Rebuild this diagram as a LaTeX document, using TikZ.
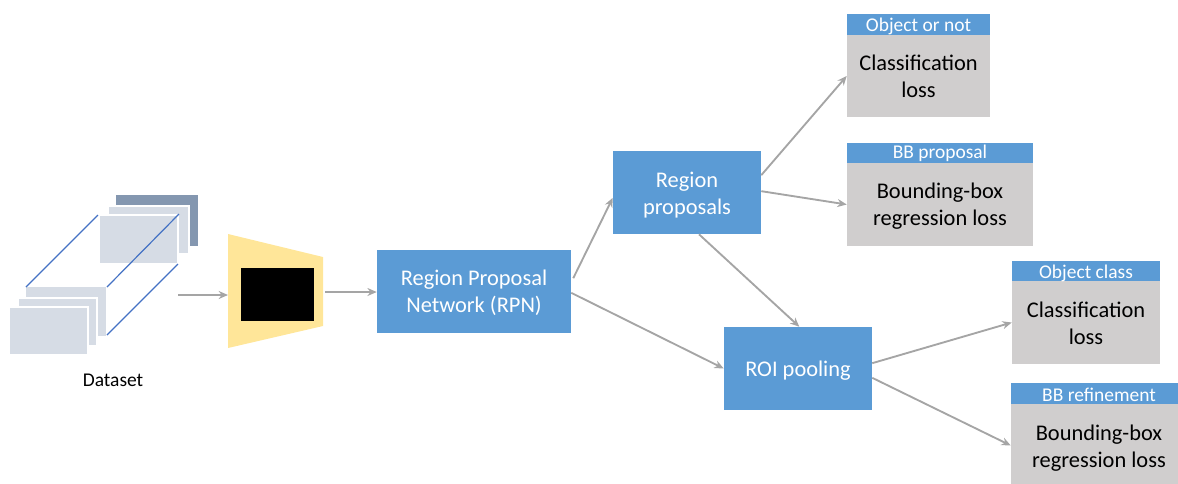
\documentclass[tikz,border=0pt]{standalone}
\usepackage{fontspec}
\setmainfont{Carlito}
\definecolor{boxblue}{HTML}{5B9BD5}
\definecolor{lossgray}{HTML}{D0CECE}
\definecolor{arrowgray}{HTML}{A5A5A5}
\definecolor{framelight}{HTML}{D6DCE5}
\definecolor{framedark}{HTML}{8497B0}
\definecolor{edgeblue}{HTML}{4472C4}
\definecolor{netyellow}{HTML}{FFE699}
\usetikzlibrary{arrows.meta}
\newcommand{\dropline}[2]{\raisebox{-#1}[\height][\depth]{#2}}
\tikzset{
  bluebox/.style={fill=boxblue,text=white,align=center,inner sep=0pt,font=\fontsize{16.8}{20.2}\selectfont},
  headbox/.style={fill=boxblue,text=white,align=center,inner sep=0pt,font=\fontsize{14.6}{15}\selectfont},
  lossbox/.style={fill=lossgray,text=black,align=center,inner sep=0pt,font=\fontsize{16.8}{20.2}\selectfont},
  framebox/.style={fill=framelight,draw=white,line width=.8pt},
  flow/.style={draw=arrowgray,line width=1.4pt,-{Stealth[length=7pt,width=6pt]}},
  edgeline/.style={draw=edgeblue,line width=.9pt}
}
\begin{document}
\begin{tikzpicture}[x=.75pt, y=-.75pt]
    \useasboundingbox (0,0) rectangle (1178,483);
    \clip (0,0) rectangle (1178,483);
    % dataset frames
    \fill[framedark] (116,195) rectangle (198,246);
    \draw[framebox] (108,206) rectangle (189,254);
    \draw[framebox] (99,215) rectangle (178,264);
    \draw[framebox] (25,286) rectangle (107,337);
    \draw[framebox] (18,298) rectangle (97,346);
    \draw[framebox] (9,307) rectangle (88,355);
    \draw[edgeline] (26,287) -- (98,215);
    \draw[edgeline] (107,287) -- (179,214);
    \draw[edgeline] (107,335) -- (178,264);
    \node[font=\fontsize{14.6}{16}\selectfont] (dataset) at (113,380) {Dataset};
    \coordinate (stackout) at (178,295);
    % network
    \fill[netyellow] (228,234) -- (323,257) -- (323,326) -- (228,348) -- cycle;
    \fill[black] (241,268) rectangle (314,321);
    \coordinate (netin) at (228,295);
    \coordinate (netout) at (325,292);
    % boxes
    \node[bluebox,minimum width=145.5pt,minimum height=62.25pt] (rpn) at (474,291.5) {\dropline{1.1pt}{Region Proposal}\\\dropline{1.1pt}{Network (RPN)}};
    \node[bluebox,minimum width=111pt,minimum height=62.25pt] (proposals) at (687,192.5) {\dropline{2.25pt}{Region}\\\dropline{2.25pt}{proposals}};
    \node[bluebox,minimum width=111pt,minimum height=62.25pt] (roi) at (798,368.5) {\dropline{1.5pt}{ROI pooling}};
    \node[lossbox,minimum width=107.25pt,minimum height=61.5pt] (cls1) at (918.5,76) {Classification\\loss};
    \node[headbox,minimum width=107.25pt,minimum height=15.75pt] (head1) at (918.5,24.5) {\dropline{1.5pt}{Object or not}};
    \node[lossbox,minimum width=139.5pt,minimum height=62.25pt] (reg1) at (940,204.5) {\dropline{1.5pt}{Bounding-box}\\\dropline{1.5pt}{regression loss}};
    \node[headbox,minimum width=139.5pt,minimum height=15pt] (head2) at (940,152.5) {\dropline{.75pt}{BB proposal}};
    \node[lossbox,minimum width=111pt,minimum height=62.25pt] (cls2) at (1086,322.5) {\dropline{.4pt}{Classification}\\\dropline{.4pt}{loss}};
    \node[headbox,minimum width=111pt,minimum height=15pt] (head3) at (1086,271) {\dropline{1.5pt}{Object class}};
    \node[lossbox,minimum width=132pt,minimum height=62.25pt] (reg2) at (1099,445.5) {\dropline{2.25pt}{Bounding-box}\\\dropline{2.25pt}{regression loss}};
    \node[headbox,minimum width=132pt,minimum height=15.75pt] (head4) at (1099,393.5) {\dropline{.75pt}{BB refinement}};
    % arrows
    \draw[flow] (stackout) -- (netin);
    \draw[flow] (netout) -- (rpn.west |- netout);
    \draw[flow] ([xshift=1.5pt,yshift=10pt]rpn.east) -- ([yshift=-4pt]proposals.west);
    \draw[flow] ([yshift=-1pt]rpn.east) -- (roi.west);
    \draw[flow] ([yshift=13pt]proposals.east) -- ([yshift=0pt]cls1.west);
    \draw[flow] ([yshift=1pt]proposals.east) -- (reg1.west);
    \draw[flow] ([xshift=9pt]proposals.south) -- ([xshift=1pt]roi.north);
    \draw[flow] ([yshift=4pt]roi.east) -- (cls2.west);
    \draw[flow] ([yshift=-7pt]roi.east) -- (reg2.west);
  \end{tikzpicture}
\end{document}
